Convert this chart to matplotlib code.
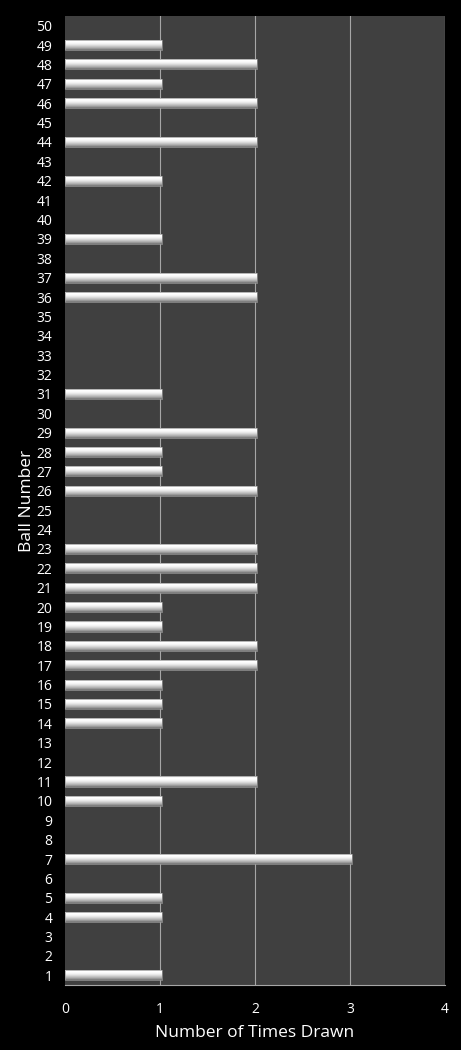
import numpy as np
import matplotlib
matplotlib.use("Agg")
import matplotlib.pyplot as plt
from matplotlib.patches import Rectangle

# Ball numbers and how many times each was drawn
balls = list(range(1, 51))
times_drawn = [1, 0, 0, 1, 1, 0, 3, 0, 0, 1,
               2, 0, 0, 1, 1, 1, 2, 2, 1, 1,
               2, 2, 2, 0, 0, 2, 1, 1, 2, 0,
               1, 0, 0, 0, 0, 2, 2, 0, 1, 0,
               0, 1, 0, 2, 0, 2, 1, 2, 1, 0]
x_ticks = [0, 1, 2, 3, 4]

plt.rcParams['font.family'] = ['Open Sans', 'DejaVu Sans']

fig = plt.figure(figsize=(4.61, 10.5), dpi=100, facecolor="black")
ax = fig.add_axes([65 / 461, 1 - 985 / 1050, 380 / 461, 969 / 1050])
ax.set_facecolor("#404040")

for xv in x_ticks[1:]:
    ax.axvline(xv, color="#a6a6a6", lw=0.8, zorder=1)

# gradient for bar faces (bottom -> top): gray bottom, white body, light top edge
grad = np.array([0.5, 0.62, 0.72, 0.8, 0.88, 0.94, 0.98, 1.0, 1.0, 0.85]).reshape(-1, 1)
bh = 0.52
for b, v in zip(balls, times_drawn):
    if v <= 0:
        continue
    rect = Rectangle((0, b - bh / 2), v + 0.02, bh, facecolor="none",
                     edgecolor="#9a9a9a", lw=0.5, zorder=3)
    ax.add_patch(rect)
    im = ax.imshow(grad, cmap="gray", vmin=0, vmax=1, aspect="auto",
                   extent=[0, v + 0.02, b - bh / 2, b + bh / 2], origin="lower",
                   interpolation="bilinear", zorder=2)
    im.set_clip_path(rect)

ax.set_xlim(0, 4)
ax.set_ylim(0.5, 50.5)
ax.set_yticks(balls)
ax.set_yticklabels([str(b) for b in balls])
ax.set_xticks(x_ticks)
ax.tick_params(colors="white", labelsize=10, length=0)
ax.tick_params(axis="y", pad=9)
ax.tick_params(axis="x", pad=12)
for s in ["top", "right", "left"]:
    ax.spines[s].set_visible(False)
ax.spines["bottom"].set_color("#a6a6a6")

ax.set_xlabel("Number of Times Drawn", color="white", fontsize=12.5, labelpad=6)
ax.set_ylabel("Ball Number", color="white", fontsize=12.5, labelpad=1)

fig.savefig("out.png", dpi=100, facecolor="black")
